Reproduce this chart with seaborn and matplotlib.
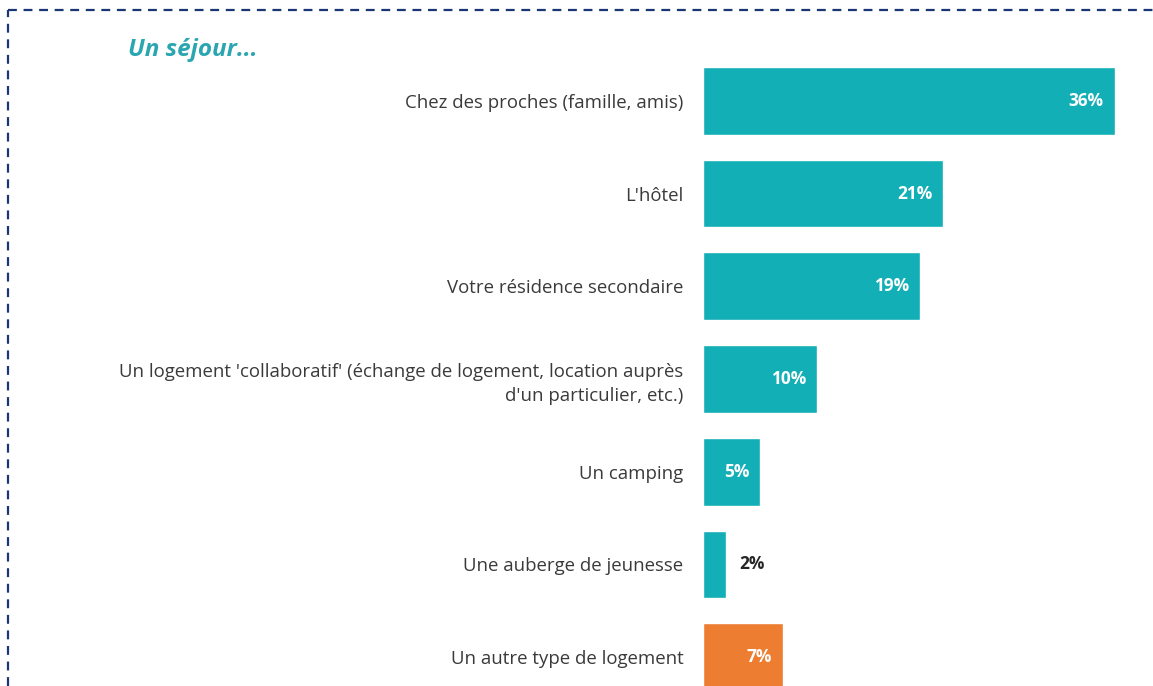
import numpy as np
import pandas as pd
import matplotlib.pyplot as plt
import seaborn as sns
from matplotlib.lines import Line2D

# data
categories = [
    "Chez des proches (famille, amis)",
    "L'hôtel",
    "Votre résidence secondaire",
    "Un logement 'collaboratif' (échange de logement, location auprès\nd'un particulier, etc.)",
    "Un camping",
    "Une auberge de jeunesse",
    "Un autre type de logement",
]
values = [36, 21, 19, 10, 5, 2, 7]
labels = ["36%", "21%", "19%", "10%", "5%", "2%", "7%"]

teal = "#13AFB6"
orange = "#ED7D31"
bar_colors = [teal] * 6 + [orange]

df = pd.DataFrame({"cat": categories, "val": values})

sns.set_style("white")
plt.rcParams["font.family"] = ["Open Sans", "DejaVu Sans"]

fig = plt.figure(figsize=(11.53, 6.86), dpi=100)
W, H = 1153, 686
# axes in pixel terms: bars start at x=703, 93 px per category
left = 703 / W
width = 38 * 11.44 / W
top_px = 101 - 93 / 2
bot_px = 657 + 93 / 2
ax = fig.add_axes([left, (H - bot_px) / H, width, (bot_px - top_px) / H])

sns.barplot(data=df, y="cat", x="val", hue="cat", palette=bar_colors,
            legend=False, orient="h", width=0.73, ax=ax, saturation=1)
ax.set_xlim(0, 38)
ax.set_ylim(6.5, -0.5)
ax.set_xlabel("")
ax.set_ylabel("")
ax.set_xticks([])
for s in ax.spines.values():
    s.set_visible(False)
ax.tick_params(axis="y", length=0, pad=14, labelsize=13.4, labelcolor="#3A3A3A")
for t in ax.get_yticklabels():
    t.set_multialignment("right")
    t.set_linespacing(1.45)

for i, (v, lab) in enumerate(zip(values, labels)):
    if v >= 4:
        ax.annotate(lab, (v, i), xytext=(-8, 0), textcoords="offset points",
                    ha="right", va="center", color="white", fontsize=12.4,
                    fontweight="bold")
    else:
        ax.annotate(lab, (v, i), xytext=(10, 0), textcoords="offset points",
                    ha="left", va="center", color="#262626", fontsize=12.4,
                    fontweight="bold")

fig.text(128 / W, 1 - 50 / H, "Un séjour...", color="#2AA6B0", fontsize=17.5,
         fontweight="bold", fontstyle="italic", ha="left", va="center")

# dashed frame (top and left edge)
navy = "#1B3675"
fig.add_artist(Line2D([8 / W, 1], [1 - 10 / H, 1 - 10 / H], transform=fig.transFigure,
                      color=navy, lw=1.6, ls=(0, (4, 3))))
fig.add_artist(Line2D([8 / W, 8 / W], [0, 1 - 10 / H], transform=fig.transFigure,
                      color=navy, lw=1.6, ls=(0, (4, 3))))

fig.savefig("out.png", dpi=100)
